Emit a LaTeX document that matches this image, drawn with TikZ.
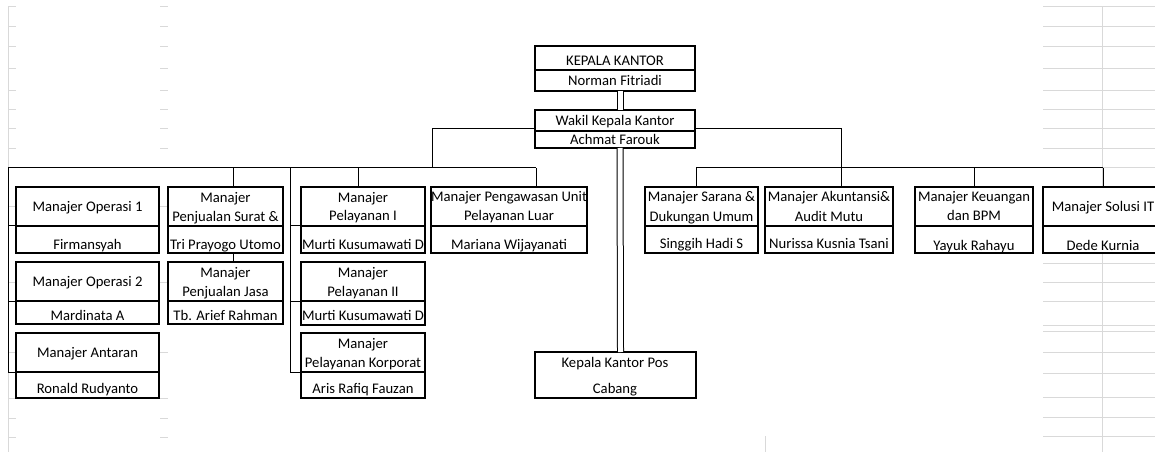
\documentclass[tikz,border=0pt]{standalone}
\usepackage{fontspec}
\setmainfont{Carlito}
\usetikzlibrary{fit}
\definecolor{gridc}{HTML}{D9D9D9}
\tikzset{
  obx/.style={draw=black, line width=1.1pt, fill=white, inner sep=0pt, outer sep=0pt, rectangle},
  divl/.style={draw=black, line width=0.9pt},
  con/.style={draw=black, line width=0.75pt},
  dbl/.style={draw=black, double=white, double distance=3.75pt, line width=0.75pt},
  txt/.style={anchor=base, inner sep=0pt, font=\fontsize{11pt}{13pt}\selectfont},
  gridl/.style={draw=gridc, line width=0.75pt},
}
\newcommand{\orgbox}[6]{%
  \coordinate (#1-nw) at (#2,#3);
  \coordinate (#1-se) at (#4,#6);
  \node[obx, fit=(#1-nw)(#1-se)] (#1) {};
  \coordinate (#1-dw) at (#2,#5);
  \coordinate (#1-de) at (#4,#5);
  \draw[divl] (#1-dw) -- (#1-de);
}
\newcommand{\otxt}[4]{\node[txt] (#1) at (#2,#3) {#4};}
\begin{document}
\begin{tikzpicture}[x=0.75pt,y=-0.75pt]
\useasboundingbox (0,0) rectangle (1155,452);
\fill[white] (0,0) rectangle (1155,452);
% gridlines
\draw[gridl] (8,7) -- (8,452);
\foreach \yy in {7,27,47,69,91,110,129,149,207,282,352,398,418,437}{
  \draw[gridl] (8,\yy) -- (16,\yy);
  \draw[gridl] (160,\yy) -- (168,\yy);
}
\draw[gridl] (1102,7) -- (1102,452);
\foreach \yy in {7,27,47,69,91,110,129,149,253,263,282,301,325,331,352,373,397,417,436}{
  \draw[gridl] (1043,\yy) -- (1155,\yy);
}
\draw[gridl] (1103,168) -- (1155,168);
\draw[gridl] (765,436) -- (765,452);

% boxes
\orgbox{kk}{535}{46}{695}{70}{91}
\otxt{kk-t}{615}{66}{KEPALA KANTOR}
\otxt{kk-n}{615}{86}{Norman Fitriadi}

\orgbox{wk}{535}{110}{695}{131}{148}
\otxt{wk-t}{615}{126}{Wakil Kepala Kantor}
\otxt{wk-n}{615}{145}{Achmat Farouk}

\coordinate (kkp-nw) at (535,352);
\coordinate (kkp-se) at (696,398);
\node[obx, fit=(kkp-nw)(kkp-se)] (kkp) {};
\otxt{kkp-t}{615}{367}{Kepala Kantor Pos}
\otxt{kkp-n}{615}{393}{Cabang}

\orgbox{op1}{16}{187}{159}{226}{253}
\otxt{op1-t}{87.5}{212}{Manajer Operasi 1}
\otxt{op1-n}{87.5}{249}{Firmansyah}

\orgbox{ps}{168}{187}{283}{226}{253}
\otxt{ps-t1}{225.5}{203}{Manajer}
\otxt{ps-t2}{225.5}{222}{Penjualan Surat \&}
\otxt{ps-n}{225.5}{249}{Tri Prayogo Utomo}

\orgbox{op2}{16}{262}{159}{301}{324}
\otxt{op2-t}{87.5}{286}{Manajer Operasi 2}
\otxt{op2-n}{87.5}{320}{Mardinata A}

\orgbox{pj}{168}{262}{283}{301}{324}
\otxt{pj-t1}{225.5}{277}{Manajer}
\otxt{pj-t2}{225.5}{296}{Penjualan Jasa}
\otxt{pj-n}{225.5}{320}{Tb. Arief Rahman}

\orgbox{ant}{16}{333}{159}{372}{398}
\otxt{ant-t}{87.5}{357}{Manajer Antaran}
\otxt{ant-n}{87.5}{393}{Ronald Rudyanto}

\orgbox{pl1}{301}{187}{425}{226}{253}
\otxt{pl1-t1}{363}{203}{Manajer}
\otxt{pl1-t2}{363}{221}{Pelayanan I}
\otxt{pl1-n}{363}{249}{Murti Kusumawati D}

\orgbox{pl2}{301}{262}{425}{301}{325}
\otxt{pl2-t1}{363}{277}{Manajer}
\otxt{pl2-t2}{363}{296}{Pelayanan II}
\otxt{pl2-n}{363}{320}{Murti Kusumawati D}

\orgbox{kor}{301}{333}{425}{372}{398}
\otxt{kor-t1}{363}{348}{Manajer}
\otxt{kor-t2}{363}{367}{Pelayanan Korporat}
\otxt{kor-n}{363}{393}{Aris Rafiq Fauzan}

\orgbox{pw}{431}{187}{587}{226}{253}
\otxt{pw-t1}{509}{202}{Manajer Pengawasan Unit}
\otxt{pw-t2}{509}{221}{Pelayanan Luar}
\otxt{pw-n}{509}{249}{Mariana Wijayanati}

\orgbox{sa}{645}{187}{758}{226}{253}
\otxt{sa-t1}{701.5}{202}{Manajer Sarana \&}
\otxt{sa-t2}{701.5}{222}{Dukungan Umum}
\otxt{sa-n}{701.5}{248}{Singgih Hadi S}

\orgbox{ak}{765}{187}{893}{226}{253}
\otxt{ak-t1}{829}{202}{Manajer Akuntansi\&}
\otxt{ak-t2}{829}{222}{Audit Mutu}
\otxt{ak-n}{829}{248}{Nurissa Kusnia Tsani}

\orgbox{ke}{915}{187}{1033}{226}{253}
\otxt{ke-t1}{974}{202}{Manajer Keuangan}
\otxt{ke-t2}{974}{221}{dan BPM}
\otxt{ke-n}{974}{250}{Yayuk Rahayu}

\orgbox{so}{1043}{187}{1163}{226}{253}
\otxt{so-t}{1103}{212}{Manajer Solusi IT}
\otxt{so-n}{1103}{250}{Dede Kurnia}

% connectors: double lines
\draw[dbl] ([xshift=3.75pt]kk.south) -- ([xshift=3.75pt]wk.north);
\draw[dbl] ([xshift=3.75pt]wk.south) -- ([xshift=3.75pt]kkp.north);

% left tree
\coordinate (bL)  at (432,168);
\coordinate (bL0) at (8,168);
\coordinate (bPS) at (233,168);
\coordinate (bPL) at (290,168);
\coordinate (bP1) at (358,168);
\coordinate (bL1) at (536,168);
\draw[con] (wk.west) -| (bL);
\draw[con] (bL0) -- (bL1);
\draw[con] (bL1) -- (bL1 |- pw.north);
\draw[con] (bP1) -- (bP1 |- pl1.north);
\draw[con] (bPS) -- (bPS |- ps.north);
\draw[con] (bPS |- ps.south) -- (bPS |- pj.north);
\draw[con] (bPL) |- (kor-dw);
\draw[con] (bPL |- pl1-dw) -- (pl1-dw);
\draw[con] (bPL |- pl2-dw) -- (pl2-dw);
\draw[con] (bL0) |- (ant-dw);
\draw[con] (bL0 |- op1-dw) -- (op1-dw);
\draw[con] (bL0 |- op2-dw) -- (op2-dw);

% right tree
\coordinate (bR)  at (841,168);
\coordinate (bR0) at (696,168);
\coordinate (bR2) at (974,168);
\coordinate (bR3) at (1103,168);
\draw[con] (wk.east) -| (bR);
\draw[con] (bR0) -- (bR3);
\draw[con] (bR0) -- (bR0 |- sa.north);
\draw[con] (bR) -- (bR |- ak.north);
\draw[con] (bR2) -- (bR2 |- ke.north);
\draw[con] (bR3) -- (bR3 |- so.north);
\end{tikzpicture}
\end{document}
